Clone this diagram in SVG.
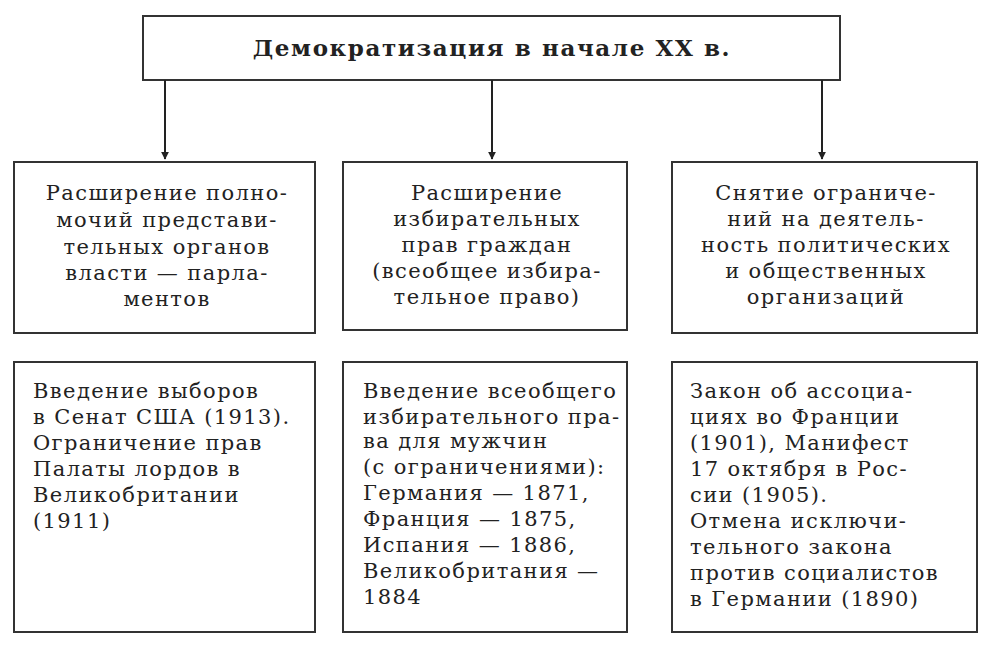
<svg xmlns="http://www.w3.org/2000/svg" width="996" height="652" viewBox="0 0 996 652">
<defs>
<marker id="ah" viewBox="0 0 10 10" refX="9" refY="5" markerWidth="8" markerHeight="10" orient="auto" markerUnits="userSpaceOnUse"><path d="M0,0 L10,5 L0,10 Z" fill="#222"/></marker>
<style>
rect{fill:#fff;stroke:#333;stroke-width:2}
text{font-family:"DejaVu Serif",serif;font-size:21px;letter-spacing:1.4px;fill:#222}
.c{text-anchor:middle}
.t{font-weight:bold;font-size:23px;letter-spacing:1.6px}
.con line{stroke:#222;stroke-width:2;marker-end:url(#ah)}
</style>
</defs>
<rect width="996" height="652" style="fill:#fff;stroke:none"/>
<g id="top"><rect x="143" y="16" width="697" height="64"/><text class="c t" x="492" y="56">Демократизация в начале XX в.</text></g>
<g class="con" id="connectors">
<line x1="165" y1="80" x2="165" y2="159"/>
<line x1="492" y1="80" x2="492" y2="159"/>
<line x1="822" y1="80" x2="822" y2="159"/>
</g>
<g id="m1"><rect x="14" y="162" width="301" height="171"/>
<text class="c" x="167"><tspan x="167" y="200">Расширение полно-</tspan><tspan x="167" y="227">мочий представи-</tspan><tspan x="167" y="254">тельных органов</tspan><tspan x="167" y="280">власти — парла-</tspan><tspan x="167" y="306">ментов</tspan></text></g>
<g id="m2"><rect x="343" y="162" width="284" height="168"/>
<text class="c" x="487"><tspan x="487" y="200">Расширение</tspan><tspan x="487" y="226">избирательных</tspan><tspan x="487" y="252">прав граждан</tspan><tspan x="487" y="278">(всеобщее избира-</tspan><tspan x="487" y="304">тельное право)</tspan></text></g>
<g id="m3"><rect x="672" y="162" width="305" height="171"/>
<text class="c" x="826"><tspan x="826" y="200">Снятие ограниче-</tspan><tspan x="826" y="226">ний на деятель-</tspan><tspan x="826" y="252">ность политических</tspan><tspan x="826" y="278">и общественных</tspan><tspan x="826" y="304">организаций</tspan></text></g>
<g id="b1"><rect x="14" y="362" width="301" height="270"/>
<text><tspan x="33" y="398">Введение выборов</tspan><tspan x="33" y="424">в Сенат США (1913).</tspan><tspan x="33" y="450">Ограничение прав</tspan><tspan x="33" y="476">Палаты лордов в</tspan><tspan x="33" y="502">Великобритании</tspan><tspan x="33" y="528">(1911)</tspan></text></g>
<g id="b2"><rect x="343" y="362" width="284" height="270"/>
<text><tspan x="363" y="398">Введение всеобщего</tspan><tspan x="363" y="424">избирательного пра-</tspan><tspan x="363" y="448">ва для мужчин</tspan><tspan x="363" y="474">(с ограничениями):</tspan><tspan x="363" y="500">Германия — 1871,</tspan><tspan x="363" y="526">Франция — 1875,</tspan><tspan x="363" y="552">Испания — 1886,</tspan><tspan x="363" y="578">Великобритания —</tspan><tspan x="363" y="604">1884</tspan></text></g>
<g id="b3"><rect x="672" y="362" width="305" height="270"/>
<text><tspan x="690" y="398">Закон об ассоциа-</tspan><tspan x="690" y="424">циях во Франции</tspan><tspan x="690" y="450">(1901), Манифест</tspan><tspan x="690" y="476">17 октября в Рос-</tspan><tspan x="690" y="502">сии (1905).</tspan><tspan x="690" y="528">Отмена исключи-</tspan><tspan x="690" y="554">тельного закона</tspan><tspan x="690" y="580">против социалистов</tspan><tspan x="690" y="606">в Германии (1890)</tspan></text></g>
</svg>
